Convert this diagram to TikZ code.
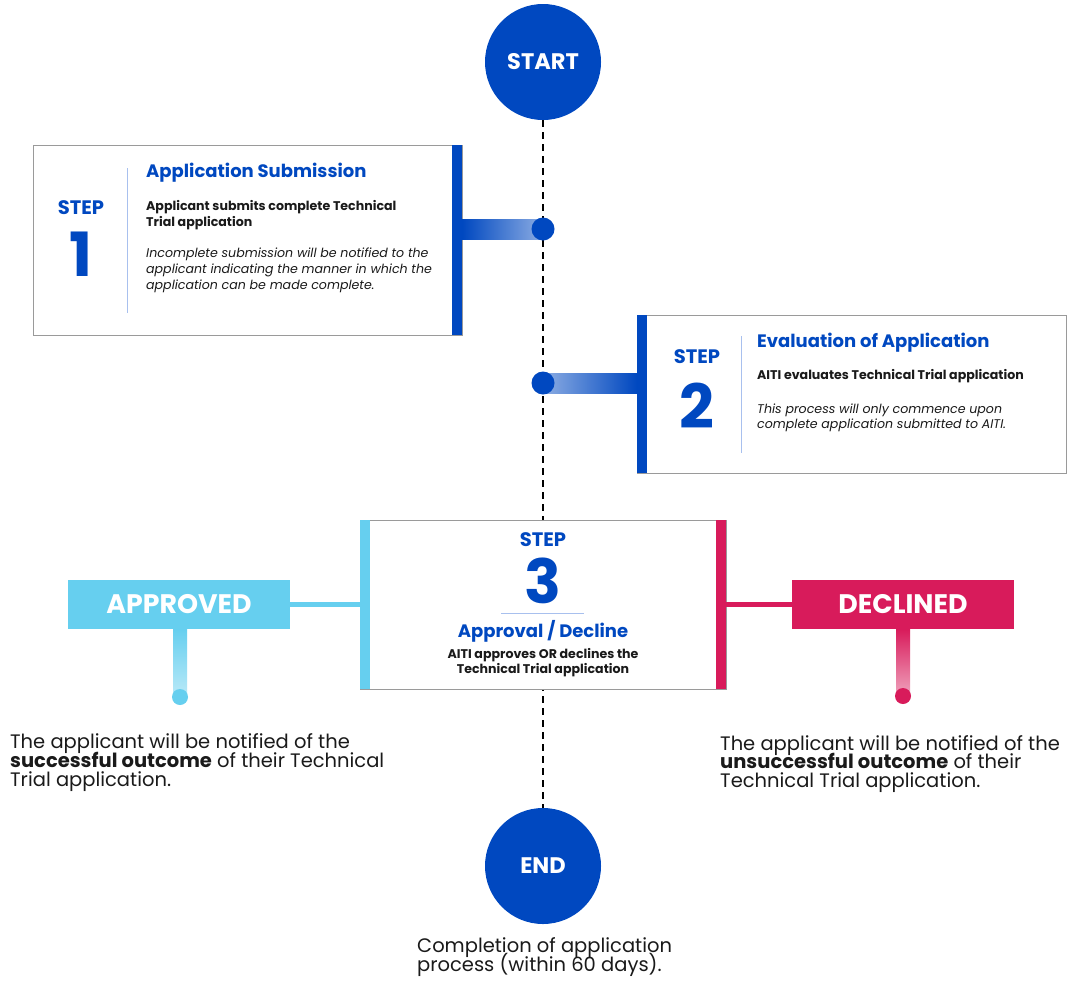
\documentclass[tikz,border=0pt]{standalone}
\usepackage{fontspec}
\setmainfont{Poppins}
\usetikzlibrary{calc}
\definecolor{dblue}{HTML}{0048C0}
\definecolor{lblue}{HTML}{66CFEF}
\definecolor{crim}{HTML}{D81B5B}
\definecolor{gborder}{HTML}{9A9A9A}
\definecolor{sep}{HTML}{A8C0EE}
\definecolor{ink}{HTML}{1A1A1A}
\newcommand{\fsz}[1]{\fontsize{#1}{#1}\selectfont}
\begin{document}
\begin{tikzpicture}[x=1pt,y=-1pt,
  box/.style={draw=gborder, line width=1pt, fill=white, inner sep=0pt},
  barnode/.style={inner sep=0pt, minimum width=10pt},
  dotnode/.style={circle, inner sep=0pt},
  bignode/.style={circle, fill=dblue, inner sep=0pt, minimum size=116pt, text=white, font=\bfseries\fsz{22.5}},
  tl/.style={anchor=base west, inner sep=0pt},
  tc/.style={anchor=base, inner sep=0pt},
  steplbl/.style={tc, text=dblue, font=\bfseries\fsz{19.5}},
  stepnum/.style={tc, text=dblue, font=\bfseries\fsz{61}},
  title/.style={text=dblue, font=\bfseries\fsz{18}},
  boldsm/.style={text=ink, font=\bfseries\fsz{12.6}},
  italsm/.style={text=ink, font=\itshape\fsz{12.6}},
  body/.style={tl, text=ink, font=\fsz{19.5}},
  outcome/.style={inner sep=0pt, minimum width=222pt, minimum height=49pt, text=white, font=\bfseries\fsz{26.8}},
  dashline/.style={black, line width=2.5pt, dash pattern=on 7pt off 5pt},
  sepline/.style={sep, line width=1pt}
]
\useasboundingbox (0,0) rectangle (1068,980);
\fill[white] (0,0) rectangle (1068,980);

% start / end
\node[bignode] (start) at (543,62) {START};
\node[bignode] (end) at (543,866) {END};
\draw[dashline] (start) -- (end);

% ---------- Step 1
\node[box, minimum width=429pt, minimum height=190pt] (b1) at (247.5,240) {};
\node[barnode, fill=dblue, minimum height=190pt] (bar1) at (457,240) {};
\node[dotnode, minimum size=23pt] (d1) at (543,229) {};
\shade[left color=dblue, right color=dblue!45] (bar1.east |- 0,219) rectangle (d1.center |- 0,239);
\fill[dblue] (d1) circle (11.5pt);
\node[steplbl] (s1a) at (81,214) {STEP};
\node[stepnum] (s1b) at (81,276) {1};
\coordinate (v1a) at (127,168); \coordinate (v1b) at (127,313);
\draw[sepline] (v1a) -- (v1b);
\node[tl, title] (t1) at (146,177) {Application Submission};
\node[tl, boldsm] (t1b) at (146,210) {Applicant submits complete Technical};
\node[tl, boldsm] (t1c) at (146,226) {Trial application};
\node[tl, italsm] (t1d) at (146,257) {Incomplete submission will be notified to the};
\node[tl, italsm] (t1e) at (146,273) {applicant indicating the manner in which the};
\node[tl, italsm] (t1f) at (146,289) {application can be made complete.};

% ---------- Step 2
\node[box, minimum width=429pt, minimum height=158pt] (b2) at (851.5,394) {};
\node[barnode, fill=dblue, minimum height=158pt] (bar2) at (642,394) {};
\node[dotnode, minimum size=23pt] (d2) at (543,383) {};
\shade[left color=dblue!45, right color=dblue] (d2.center |- 0,373) rectangle (bar2.west |- 0,393);
\fill[dblue] (d2) circle (11.5pt);
\node[steplbl] (s2a) at (697,363) {STEP};
\node[stepnum] (s2b) at (697,428) {2};
\coordinate (v2a) at (741,336); \coordinate (v2b) at (741,453);
\draw[sepline] (v2a) -- (v2b);
\node[tl, title] (t2) at (757,347) {Evaluation of Application};
\node[tl, boldsm] (t2b) at (757,379) {AITI evaluates Technical Trial application};
\node[tl, italsm] (t2c) at (757,413) {This process will only commence upon};
\node[tl, italsm] (t2d) at (757,428) {complete application submitted to AITI.};

% ---------- Step 3
\node[box, minimum width=366pt, minimum height=169pt] (b3) at (543,604.5) {};
\node[barnode, fill=lblue, minimum height=169pt] (bar3l) at (365,604.5) {};
\node[barnode, fill=crim, minimum height=169pt] (bar3r) at (721,604.5) {};
\node[steplbl] (s3a) at (543,546) {STEP};
\node[stepnum] (s3b) at (543,603) {3};
\coordinate (h3a) at (501,613); \coordinate (h3b) at (584,613);
\draw[sepline] (h3a) -- (h3b);
\node[tc, title] (t3) at (543,637) {Approval / Decline};
\node[tc, boldsm] (t3b) at (543,658) {AITI approves OR declines the};
\node[tc, boldsm] (t3c) at (543,673) {Technical Trial application};

% ---------- Approved
\node[outcome, fill=lblue] (ap) at (179,604.5) {APPROVED};
\draw[lblue, line width=5pt] (ap.east) -- (ap.east -| bar3l.west);
\node[dotnode, minimum size=16pt] (apd) at (180,697) {};
\shade[top color=lblue, bottom color=lblue!45!white] (173,629) rectangle (187,697);
\fill[lblue] (apd) circle (8pt);
\node[body] (ap1) at (10,748) {The applicant will be notified of the};
\node[body] (ap2) at (10,767) {\textbf{successful outcome} of their Technical};
\node[body] (ap3) at (10,786) {Trial application.};

% ---------- Declined
\node[outcome, fill=crim] (de) at (903,604.5) {DECLINED};
\draw[crim, line width=5pt] (de.west) -- (de.west -| bar3r.east);
\node[dotnode, minimum size=16pt] (ded) at (903,696) {};
\shade[top color=crim, bottom color=crim!40!white] (896,629) rectangle (910,696);
\fill[crim] (ded) circle (8pt);
\node[body] (de1) at (720,750) {The applicant will be notified of the};
\node[body] (de2) at (720,768) {\textbf{unsuccessful outcome} of their};
\node[body] (de3) at (720,787) {Technical Trial application.};

% ---------- End caption
\node[body] (en1) at (417,952) {Completion of application};
\node[body] (en2) at (417,971) {process (within 60 days).};
\end{tikzpicture}
\end{document}
